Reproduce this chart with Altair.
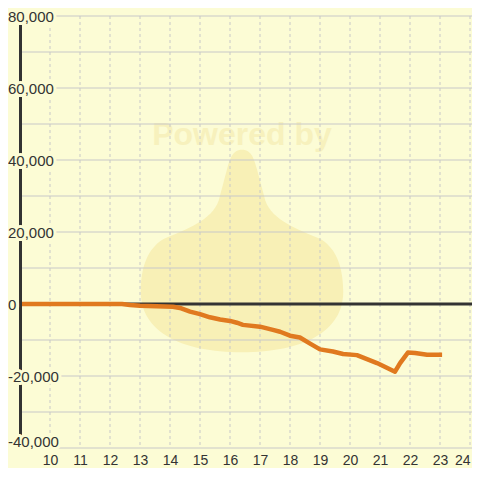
import altair as alt
import pandas as pd

# ---- data ----
hours = [9.0, 12.4, 12.67, 13.0, 14.1, 14.33, 14.67, 15.0, 15.33, 15.67, 16.0,
         16.23, 16.43, 17.0, 17.43, 17.67, 18.0, 18.33, 18.67, 19.0, 19.43,
         19.77, 20.23, 20.9, 21.5, 21.67, 21.93, 22.17, 22.57, 23.07]
values = [0, 0, -300, -500, -750, -1100, -2100, -2800, -3700, -4300, -4700,
          -5200, -5800, -6300, -7200, -7700, -8800, -9300, -11000, -12600, -13200,
          -13900, -14200, -16400, -18800, -16400, -13500, -13600, -14100, -14100]

x_ticks = list(range(10, 25))
y_grid = list(range(-40000, 80001, 10000))
y_label_vals = [80000, 60000, 40000, 20000, 0, -20000]
y_label_txt = ["80,000", "60,000", "40,000", "20,000", "0", "-20,000"]
y_bottom_val = [-40000]
y_bottom_txt = ["-40,000"]

BG = "#fcfcd5"
GRID = "#c8c8c8"
DARK = "#333333"
ORANGE = "#e0791f"

line_df = pd.DataFrame({"h": hours, "v": values})
xt_df = pd.DataFrame({"h": x_ticks})
yg_df = pd.DataFrame({"v": y_grid})
yl_df = pd.DataFrame({"v": y_label_vals, "t": y_label_txt})
yb_df = pd.DataFrame({"v": y_bottom_val, "t": y_bottom_txt})
zero_df = pd.DataFrame({"v": [0]})
one_df = pd.DataFrame({"a": [1]})

xscale = alt.Scale(domain=[9, 24.0667], nice=False, zero=False)
yscale = alt.Scale(domain=[-40000, 80000], nice=False, zero=False)
xaxis = alt.Axis(values=x_ticks, grid=False, domain=False, ticks=False,
                 labelFontSize=14, labelColor=DARK, labelFont="Liberation Sans",
                 labelPadding=5, title=None, format="d", labelFlush=3)

teardrop = ("M0,-1 C0.1,-1 0.12,-0.9 0.15,-0.8 L0.23,-0.5 "
            "C0.3,-0.3 0.55,-0.22 0.77,-0.12 C0.95,-0.02 1,0.2 1,0.4 "
            "C1,0.8 0.6,1 0,1 C-0.6,1 -1,0.8 -1,0.4 C-1,0.2 -0.95,-0.02 -0.77,-0.12 "
            "C-0.55,-0.22 -0.3,-0.3 -0.23,-0.5 L-0.15,-0.8 C-0.12,-0.9 -0.1,-1 0,-1 Z")

wm_shape = alt.Chart(one_df).mark_point(
    shape=teardrop, filled=True, fill="#f8f0b6", opacity=1, strokeWidth=0
).encode(x=alt.value(222), y=alt.value(235), size=alt.value(41000))

wm_text = alt.Chart(one_df).mark_text(
    text="Powered by", font="Liberation Sans", fontWeight="bold", fontSize=32,
    color="#f7f1bd", align="center", baseline="middle"
).encode(x=alt.value(222), y=alt.value(119))

hgrid = alt.Chart(yg_df).mark_rule(color=GRID, strokeWidth=1).encode(
    y=alt.Y("v:Q", scale=yscale, axis=None))

vgrid = alt.Chart(xt_df).mark_rule(color=GRID, strokeWidth=1, strokeDash=[3, 3]).encode(
    x=alt.X("h:Q", scale=xscale, axis=xaxis))

zero = alt.Chart(zero_df).mark_rule(color=DARK, strokeWidth=3).encode(
    y=alt.Y("v:Q", scale=yscale, axis=None))

line = alt.Chart(line_df).mark_line(color=ORANGE, strokeWidth=4.5, strokeJoin="round").encode(
    x=alt.X("h:Q", scale=xscale, axis=xaxis),
    y=alt.Y("v:Q", scale=yscale, axis=None))

yline = alt.Chart(one_df).mark_rule(color=DARK, strokeWidth=3).encode(
    x=alt.value(0.5), y=alt.value(0), y2=alt.value(432))


def labels(df, dy):
    bg = alt.Chart(df).mark_text(
        align="left", baseline="middle", font="Liberation Sans", fontSize=15,
        fill=BG, stroke=BG, strokeWidth=6, strokeJoin="round", dy=dy
    ).encode(x=alt.value(-12), y=alt.Y("v:Q", scale=yscale, axis=None), text="t:N")
    fg = alt.Chart(df).mark_text(
        align="left", baseline="middle", font="Liberation Sans", fontSize=15,
        color=DARK, dy=dy
    ).encode(x=alt.value(-12), y=alt.Y("v:Q", scale=yscale, axis=None), text="t:N")
    return bg, fg


lab_bg, lab = labels(yl_df, 1)
bot_bg, bot = labels(yb_df, -6)

chart = alt.layer(
    wm_shape, wm_text, hgrid, vgrid, zero, line, yline, lab_bg, bot_bg, lab, bot
).properties(
    width=452, height=432,
    padding={"left": 12, "top": 8, "right": 0, "bottom": 20},
    autosize=alt.AutoSizeParams(type="none"),
    background=BG,
).configure_view(stroke=None)

chart.save("out.html", embed_options={"renderer": "svg", "actions": False})
